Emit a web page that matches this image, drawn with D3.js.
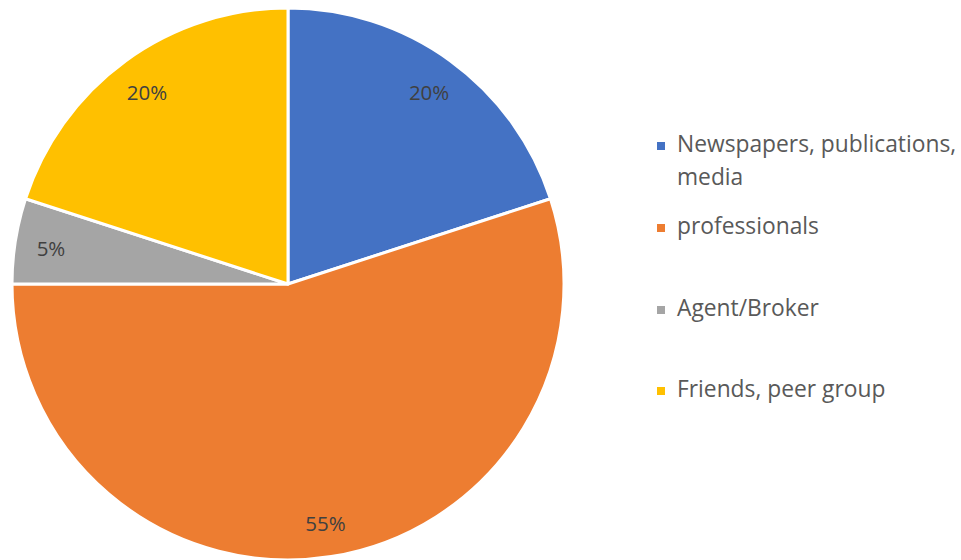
<!DOCTYPE html>
<html>
<head>
<meta charset="utf-8">
<script src="https://cdn.jsdelivr.net/npm/d3@7"></script>
<style>
  html, body { margin: 0; padding: 0; background: #fff; }
  svg { display: block; }
</style>
</head>
<body>
<svg id="chart" width="961" height="560"></svg>
<script>
// Source of information shares
const categories = ["Newspapers, publications, media", "professionals", "Agent/Broker", "Friends, peer group"];
const values = [20, 55, 5, 20];
const colors = ["#4472C4", "#ED7D31", "#A5A5A5", "#FFC000"];
const legendLines = [["Newspapers, publications,", "media"], ["professionals"], ["Agent/Broker"], ["Friends, peer group"]];

const svg = d3.select("#chart");
const cx = 288, cy = 284, radius = 276, labelRadius = 240;
const font = "'Open Sans', Lato, sans-serif";

const data = categories.map((c, i) => ({ name: c, value: values[i], color: colors[i] }));

const pie = d3.pie().value(d => d.value).sort(null);
const arcs = pie(data);
const arc = d3.arc().innerRadius(0).outerRadius(radius);
const labelArc = d3.arc().innerRadius(labelRadius).outerRadius(labelRadius);

const g = svg.append("g").attr("transform", `translate(${cx},${cy})`);

g.selectAll("path.slice")
  .data(arcs)
  .join("path")
  .attr("class", "slice")
  .attr("d", arc)
  .attr("fill", d => d.data.color)
  .attr("stroke", "#fff")
  .attr("stroke-width", 3)
  .attr("stroke-linejoin", "round");

g.selectAll("text.pct")
  .data(arcs)
  .join("text")
  .attr("class", "pct")
  .attr("transform", d => {
    const [x, y] = labelArc.centroid(d);
    return `translate(${x},${y + 2})`;
  })
  .attr("text-anchor", "middle")
  .attr("dominant-baseline", "central")
  .attr("font-family", font)
  .attr("font-size", 20.5)
  .attr("fill", "#404040")
  .text(d => d.data.value + "%");

// Legend
const legendY = [152, 234, 316, 397];
const legend = svg.append("g");
data.forEach((d, i) => {
  const row = legend.append("g").attr("transform", `translate(657,${legendY[i]})`);
  row.append("rect")
    .attr("x", 0).attr("y", -10)
    .attr("width", 8).attr("height", 8)
    .attr("fill", d.color);
  const t = row.append("text")
    .attr("x", 20).attr("y", 0)
    .attr("font-family", font)
    .attr("font-size", 22.8)
    .attr("fill", "#595959");
  legendLines[i].forEach((line, j) => {
    t.append("tspan").attr("x", 20).attr("dy", j === 0 ? 0 : 33).text(line);
  });
});
</script>
</body>
</html>
